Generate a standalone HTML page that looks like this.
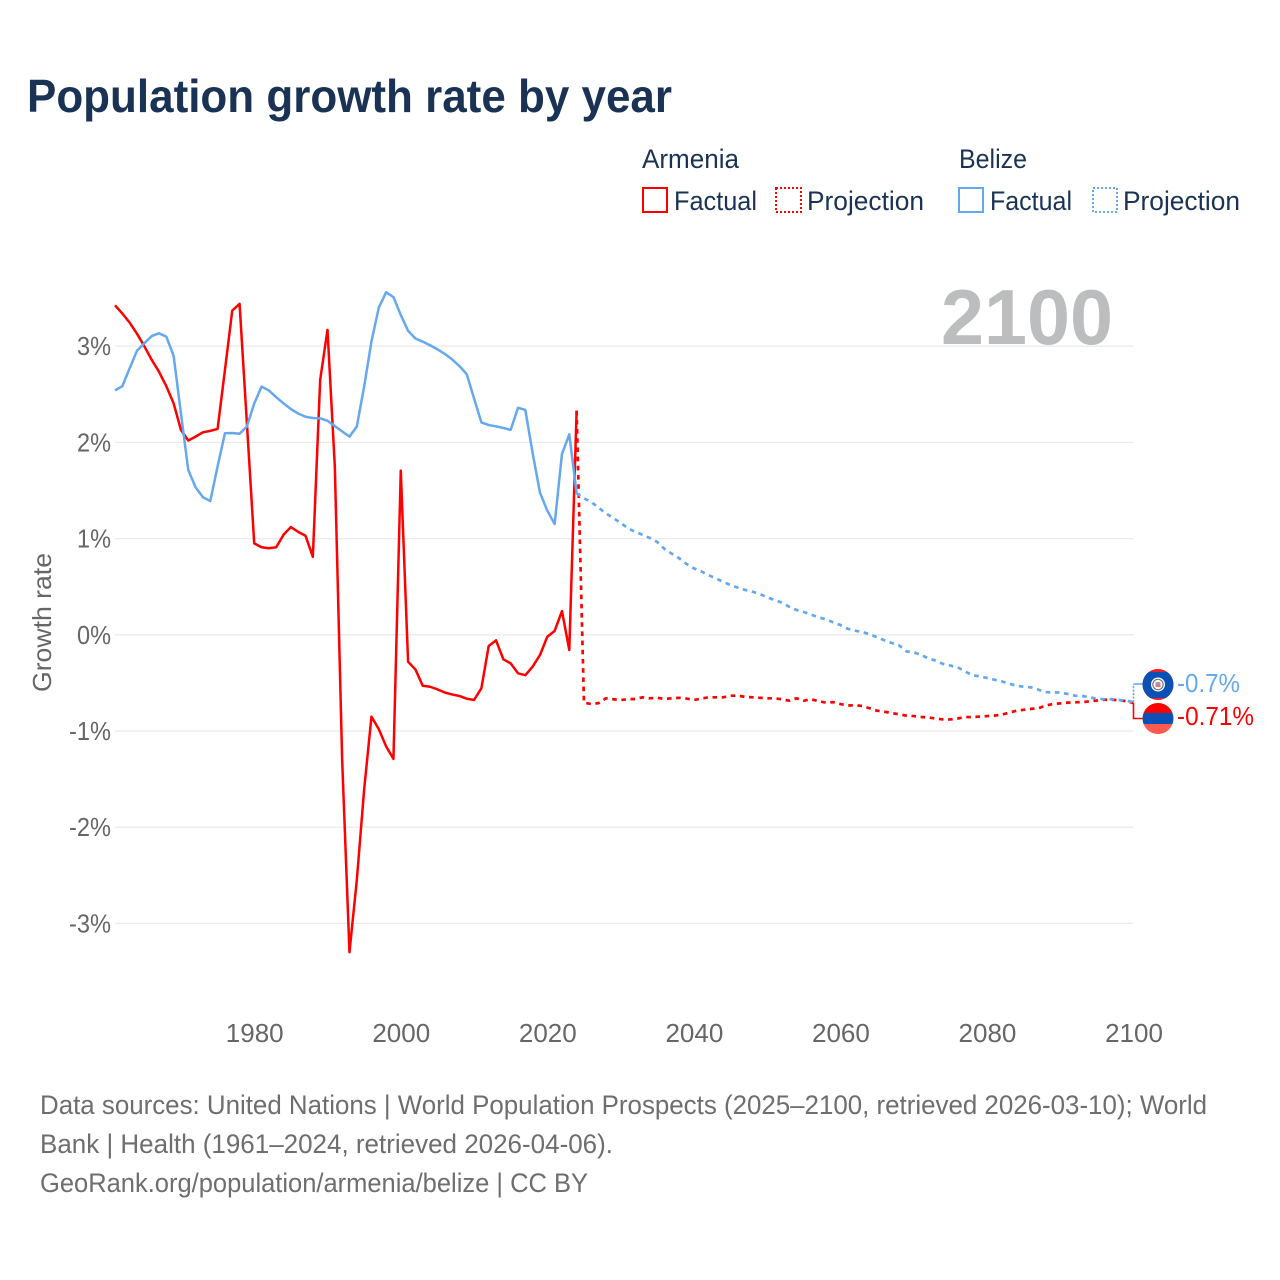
<!DOCTYPE html>
<html lang="en">
<head>
<meta charset="utf-8">
<title>Population growth rate by year</title>
<style>
html,body{margin:0;padding:0;background:#fff;}
svg{display:block;font-family:"Liberation Sans",sans-serif;}
</style>
</head>
<body>
<svg id="chart" width="1280" height="1280" viewBox="0 0 1280 1280" xmlns="http://www.w3.org/2000/svg">
  <rect width="1280" height="1280" fill="#fff"/>
  <text x="27" y="112" font-size="46" font-weight="700" fill="#1a3254" textLength="645" lengthAdjust="spacingAndGlyphs">Population growth rate by year</text>

  <g font-size="27" fill="#1a3254">
    <text x="642" y="168" textLength="97" lengthAdjust="spacingAndGlyphs">Armenia</text>
    <rect x="643" y="188" width="24" height="24" fill="none" stroke="#ff0000" stroke-width="2"/>
    <text x="674" y="210" textLength="83" lengthAdjust="spacingAndGlyphs">Factual</text>
    <rect x="776" y="188" width="25" height="24" fill="none" stroke="#ff0000" stroke-width="2" stroke-dasharray="2 2"/>
    <text x="807" y="210" textLength="117" lengthAdjust="spacingAndGlyphs">Projection</text>
    <text x="959" y="168" textLength="68" lengthAdjust="spacingAndGlyphs">Belize</text>
    <rect x="959" y="188" width="24" height="24" fill="none" stroke="#65a8ee" stroke-width="2"/>
    <text x="990" y="210" textLength="82" lengthAdjust="spacingAndGlyphs">Factual</text>
    <rect x="1093" y="188" width="24" height="24" fill="none" stroke="#65a8ee" stroke-width="2" stroke-dasharray="2 2"/>
    <text x="1123" y="210" textLength="117" lengthAdjust="spacingAndGlyphs">Projection</text>
  </g>

  <g id="grid"></g>
  <g id="yticks"></g>
  <g id="xticks"></g>

  <text transform="translate(51 692) rotate(-90)" font-size="26" fill="#666" textLength="139" lengthAdjust="spacingAndGlyphs">Growth rate</text>
  <text x="941" y="344" font-size="78" font-weight="700" fill="#bcbdbf" textLength="172" lengthAdjust="spacingAndGlyphs">2100</text>

  <g id="series"></g>
  <g id="end-markers"></g>

  <g font-size="27" fill="#6e6e6e">
    <text x="40" y="1114" textLength="1167" lengthAdjust="spacingAndGlyphs">Data sources: United Nations | World Population Prospects (2025–2100, retrieved 2026-03-10); World</text>
    <text x="40" y="1153" textLength="573" lengthAdjust="spacingAndGlyphs">Bank | Health (1961–2024, retrieved 2026-04-06).</text>
    <text x="40" y="1192" textLength="548" lengthAdjust="spacingAndGlyphs">GeoRank.org/population/armenia/belize | CC BY</text>
  </g>
</svg>
<script>
const factualYears = [1961,1962,1963,1964,1965,1966,1967,1968,1969,1970,1971,1972,1973,1974,1975,1976,1977,1978,1979,1980,1981,1982,1983,1984,1985,1986,1987,1988,1989,1990,1991,1992,1993,1994,1995,1996,1997,1998,1999,2000,2001,2002,2003,2004,2005,2006,2007,2008,2009,2010,2011,2012,2013,2014,2015,2016,2017,2018,2019,2020,2021,2022,2023,2024];
const projectionYears = [2024,2025,2026,2027,2028,2029,2030,2031,2032,2033,2034,2035,2036,2037,2038,2039,2040,2041,2042,2043,2044,2045,2046,2047,2048,2049,2050,2051,2052,2053,2054,2055,2056,2057,2058,2059,2060,2061,2062,2063,2064,2065,2066,2067,2068,2069,2070,2071,2072,2073,2074,2075,2076,2077,2078,2079,2080,2081,2082,2083,2084,2085,2086,2087,2088,2089,2090,2091,2092,2093,2094,2095,2096,2097,2098,2099,2100];
const armeniaFactual = [3.425,3.34,3.245,3.13,3.0,2.86,2.735,2.585,2.405,2.13,2.02,2.06,2.105,2.12,2.14,2.75,3.37,3.44,2.2,0.95,0.91,0.9,0.91,1.04,1.12,1.07,1.03,0.81,2.65,3.17,1.75,-1.3,-3.3,-2.55,-1.61,-0.85,-0.98,-1.16,-1.29,1.706,-0.28,-0.36,-0.53,-0.54,-0.567,-0.6,-0.62,-0.636,-0.664,-0.678,-0.556,-0.116,-0.058,-0.255,-0.297,-0.4,-0.42,-0.33,-0.21,-0.02,0.04,0.247,-0.158,2.33];
const belizeFactual = [2.54,2.585,2.77,2.953,3.03,3.105,3.134,3.1,2.9,2.3,1.713,1.533,1.43,1.39,1.75,2.095,2.098,2.09,2.165,2.405,2.58,2.54,2.47,2.405,2.347,2.3,2.267,2.254,2.25,2.225,2.17,2.115,2.06,2.165,2.58,3.05,3.4,3.56,3.51,3.325,3.16,3.08,3.047,3.01,2.967,2.92,2.863,2.794,2.71,2.458,2.208,2.18,2.167,2.15,2.13,2.36,2.337,1.887,1.477,1.29,1.152,1.88,2.084,1.47];
const armeniaProjection = [2.33,-0.705,-0.72,-0.71,-0.66,-0.67,-0.678,-0.67,-0.667,-0.65,-0.66,-0.655,-0.667,-0.66,-0.655,-0.663,-0.678,-0.663,-0.65,-0.65,-0.65,-0.633,-0.633,-0.645,-0.65,-0.655,-0.66,-0.66,-0.67,-0.685,-0.66,-0.685,-0.67,-0.69,-0.705,-0.7,-0.72,-0.735,-0.733,-0.74,-0.764,-0.789,-0.8,-0.813,-0.827,-0.84,-0.845,-0.854,-0.86,-0.87,-0.88,-0.88,-0.87,-0.855,-0.855,-0.85,-0.845,-0.84,-0.83,-0.81,-0.79,-0.78,-0.77,-0.765,-0.735,-0.72,-0.713,-0.705,-0.702,-0.7,-0.692,-0.683,-0.675,-0.675,-0.68,-0.69,-0.71];
const belizeProjection = [1.47,1.419,1.38,1.32,1.263,1.214,1.165,1.107,1.07,1.04,1.006,0.965,0.892,0.843,0.795,0.736,0.69,0.66,0.62,0.587,0.55,0.517,0.49,0.466,0.448,0.424,0.39,0.362,0.334,0.292,0.258,0.237,0.209,0.182,0.161,0.13,0.102,0.063,0.043,0.029,0.005,-0.026,-0.057,-0.085,-0.11,-0.172,-0.182,-0.21,-0.244,-0.269,-0.303,-0.32,-0.338,-0.38,-0.42,-0.432,-0.449,-0.467,-0.484,-0.508,-0.529,-0.54,-0.546,-0.57,-0.595,-0.6,-0.6,-0.615,-0.633,-0.636,-0.65,-0.664,-0.67,-0.67,-0.678,-0.685,-0.7];
const yTickValues = [3,2,1,0,-1,-2,-3];
const yTickLabels = ["3%","2%","1%","0%","-1%","-2%","-3%"];
const xTickValues = [1980,2000,2020,2040,2060,2080,2100];
const xTickLabels = ["1980","2000","2020","2040","2060","2080","2100"];

const RED = "#ff0000";
const BLUE = "#65a8ee";
const NS = "http://www.w3.org/2000/svg";

function xScale(year) { return 115 + (year - 1961) * (1133.5 - 115) / (2100 - 1961); }
function yScale(value) { return 634.8 - value * 96.2; }

function make(tag, attrs, parent) {
  const el = document.createElementNS(NS, tag);
  for (const k in attrs) el.setAttribute(k, attrs[k]);
  parent.appendChild(el);
  return el;
}
function pathFrom(years, values) {
  return years.map(function (y, i) {
    return (i ? "L" : "M") + xScale(y).toFixed(2) + " " + yScale(values[i]).toFixed(2);
  }).join(" ");
}

const grid = document.getElementById("grid");


const yticks = document.getElementById("yticks");


const xticks = document.getElementById("xticks");



yTickValues.forEach(function (v, i) {
  const y = yScale(v);
  const line = make("line", { x1: 115, x2: 1133.5, y1: y, y2: y, stroke: "#ebebeb", "stroke-width": 1.3 }, grid);
  
  
  const label = make("text", { x: 111, y: y + 9, "text-anchor": "end", "font-size": 26, fill: "#666", textLength: v < 0 ? 42 : 34, lengthAdjust: "spacingAndGlyphs" }, yticks);
  
  
  label.textContent = yTickLabels[i];
});

xTickValues.forEach(function (v, i) {
  const label = make("text", { x: xScale(v) + 0.5, y: 1042, "text-anchor": "middle", "font-size": 26, fill: "#666" }, xticks);
  
  
  label.textContent = xTickLabels[i];
});

const series = document.getElementById("series");


function drawLine(years, values, color, dash) {
  const attrs = { d: pathFrom(years, values), stroke: color, fill: "none", "stroke-width": dash ? 2.7 : 2.5, "stroke-linejoin": "round" };
  if (dash) attrs["stroke-dasharray"] = "4.6 4.6";
  return make("path", attrs, series);
}
const armeniaLine = drawLine(factualYears, armeniaFactual, RED, false);


const belizeLine = drawLine(factualYears, belizeFactual, BLUE, false);


const armeniaDash = drawLine(projectionYears, armeniaProjection, RED, true);


const belizeDash = drawLine(projectionYears, belizeProjection, BLUE, true);



const markers = document.getElementById("end-markers");


const endX = xScale(2100);
const belizeEnd = belizeProjection[belizeProjection.length - 1];
const armeniaEnd = armeniaProjection[armeniaProjection.length - 1];

const belizeConnV = make("path", { d: "M" + endX + " " + yScale(belizeEnd) + " V684", stroke: BLUE, "stroke-width": 1.6, "stroke-dasharray": "2 1.5", fill: "none" }, markers);


const belizeConnH = make("path", { d: "M" + endX + " 684 H1143", stroke: BLUE, "stroke-width": 1.6, fill: "none" }, markers);


const armeniaConn = make("path", { d: "M" + endX + " " + yScale(armeniaEnd) + " V718.5 H1143", stroke: RED, "stroke-width": 1.6, fill: "none" }, markers);



const defs = make("defs", {}, markers);
const clipB = make("clipPath", { id: "clip-belize" }, defs);
make("circle", { cx: 1158, cy: 684.5, r: 15.5 }, clipB);
const clipA = make("clipPath", { id: "clip-armenia" }, defs);
make("circle", { cx: 1158, cy: 718.5, r: 15.5 }, clipA);

const belizeFlag = make("g", { "clip-path": "url(#clip-belize)" }, markers);


make("rect", { x: 1142, y: 669, width: 32, height: 32, fill: "#ee1c25" }, belizeFlag);
make("rect", { x: 1142, y: 672, width: 32, height: 26, fill: "#0a50b5" }, belizeFlag);
make("circle", { cx: 1158, cy: 684.5, r: 7, fill: "#fff" }, belizeFlag);
make("circle", { cx: 1158, cy: 684.5, r: 5.2, fill: "none", stroke: "#777", "stroke-width": 1.2 }, belizeFlag);
make("rect", { x: 1155.5, y: 682, width: 5, height: 2.5, fill: "#8fa3c8" }, belizeFlag);
make("rect", { x: 1155.5, y: 684.5, width: 5, height: 2.5, fill: "#f0706a" }, belizeFlag);

const armeniaFlag = make("g", { "clip-path": "url(#clip-armenia)" }, markers);


make("rect", { x: 1142, y: 702, width: 32, height: 11, fill: "#ff0000" }, armeniaFlag);
make("rect", { x: 1142, y: 713, width: 32, height: 11, fill: "#0a50b5" }, armeniaFlag);
make("rect", { x: 1142, y: 724, width: 32, height: 11, fill: "#ff5a4f" }, armeniaFlag);

const belizeLabel = make("text", { x: 1177, y: 692, "font-size": 26, fill: BLUE, textLength: 63, lengthAdjust: "spacingAndGlyphs" }, markers);


belizeLabel.textContent = belizeEnd + "%";
const armeniaLabel = make("text", { x: 1177, y: 725, "font-size": 26, fill: RED, textLength: 77, lengthAdjust: "spacingAndGlyphs" }, markers);


armeniaLabel.textContent = armeniaEnd + "%";
</script>
</body>
</html>
